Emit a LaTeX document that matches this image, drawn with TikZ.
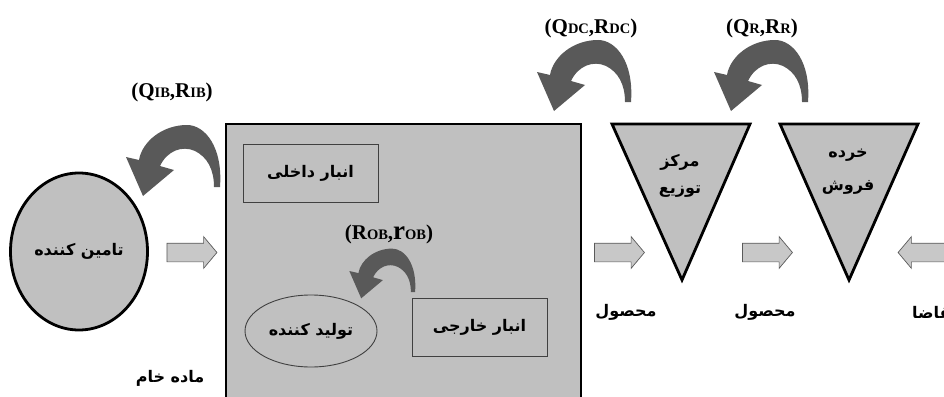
\documentclass[tikz,border=0pt]{standalone}
\usepackage{fontspec}
\usetikzlibrary{shapes.geometric,shapes.arrows}
\TeXXeTstate=1
\setmainfont{Liberation Serif}
\newfontfamily\fa[Script=Arabic]{DejaVu Sans}
\definecolor{boxgray}{RGB}{192,192,192}
\definecolor{arrgray}{RGB}{89,89,89}
\definecolor{blkfill}{RGB}{200,200,200}
\definecolor{blkline}{RGB}{90,90,90}
\newcommand\lbl[2]{#1{\fontsize{14.5}{15}\selectfont #2}}
\begin{document}
\begin{tikzpicture}[x=1pt,y=-1pt,
  fatxt/.style={font=\fa\bfseries\fontsize{16}{20}\selectfont, align=center, inner sep=0},
  lbltxt/.style={font=\bfseries\fontsize{21}{22}\selectfont, inner sep=0},
  thickblk/.style={draw=black, line width=2.8pt, fill=boxgray},
  thinbox/.style={draw=black!75, line width=0.9pt, fill=boxgray},
  blockarr/.style={single arrow, draw=blkline, fill=blkfill, line width=0.7pt,
    minimum height=50pt, text height=18pt, text depth=0pt, text width=0pt,
    single arrow head extend=6.5pt,
    single arrow tip angle=100, inner sep=0pt},
  curvarr/.pic={
    \fill[arrgray] (3,0) .. controls (6,-40) and (-12,-62) .. (-30,-62)
      .. controls (-55,-62) and (-75,-45) .. (-78,-27)
      -- (-91,-30) -- (-74,9) -- (-43,-17) -- (-57,-21)
      .. controls (-50,-36) and (-35,-42) .. (-22,-36)
      .. controls (-10,-30) and (-3,-18) .. (-3,0) -- cycle;
  }]
\useasboundingbox (0,0) rectangle (944,396);

% supplier
\node[ellipse, thickblk, minimum width=137pt, minimum height=157pt, inner sep=0] (sup) at (79,251.5) {};
\node[fatxt] (suptxt) at (sup.center) {\beginR تامین کننده\endR};

% big factory box
\draw[thickblk] (226,124) rectangle (581,410);
\coordinate (fac) at (403,260);

\node[thinbox, minimum width=135pt, minimum height=58pt] (inner) at (310.5,173) {};
\node[fatxt] at (inner.center) {\beginR انبار داخلی\endR};
\node[ellipse, thinbox, minimum width=132pt, minimum height=72pt] (prod) at (311,331) {};
\node[fatxt] at (prod.center) {\beginR تولید کننده\endR};
\node[thinbox, minimum width=135pt, minimum height=58pt] (outer) at (479.5,327) {};
\node[fatxt] at (outer.center) {\beginR انبار خارجی\endR};

% triangles
\draw[thickblk] (612,124) -- (750,124) -- (682,280) -- cycle;
\draw[thickblk] (780,124) -- (918,124) -- (849,280) -- cycle;
\node[fatxt] (dc1) at (680,162) {\beginR مرکز\endR};
\node[fatxt] (dc2) at (680,192) {\beginR توزیع\endR};
\node[fatxt] (rt1) at (848,155) {\beginR خرده\endR};
\node[fatxt] (rt2) at (848,187) {\beginR فروش\endR};

% block arrows
\node[blockarr] (a1) at (188,252.5) {};
\node[blockarr] (a2) at (615.5,252.5) {};
\node[blockarr] (a3) at (763.5,252.5) {};
\node[blockarr, shape border rotate=180] (a4) at (927,252.5) {};

% curved arrows
\pic at (217,187) {curvarr};
\pic at (628,102) {curvarr};
\pic at (805,102) {curvarr};
\pic[scale=0.7] at (413,292) {curvarr};

% labels
\node[lbltxt] (l1) at (172,92) {(\lbl{Q}{IB},\lbl{R}{IB})};
\node[lbltxt] (l2) at (389,234) {(\lbl{R}{OB},{\fontsize{27}{27}\selectfont r}{\fontsize{14.5}{15}\selectfont OB})};
\node[lbltxt] (l3) at (591,28) {(\lbl{Q}{DC},\lbl{R}{DC})};
\node[lbltxt] (l4) at (762,28) {(\lbl{Q}{R},\lbl{R}{R})};

\node[fatxt] (m0) at (170,378) {\beginR ماده خام\endR};
\node[fatxt] (m1) at (626,312) {\beginR محصول\endR};
\node[fatxt] (m2) at (765,312) {\beginR محصول\endR};
\node[fatxt, anchor=west] (m3) at (912,312) {\beginR تقاضا\endR};
\end{tikzpicture}
\end{document}
